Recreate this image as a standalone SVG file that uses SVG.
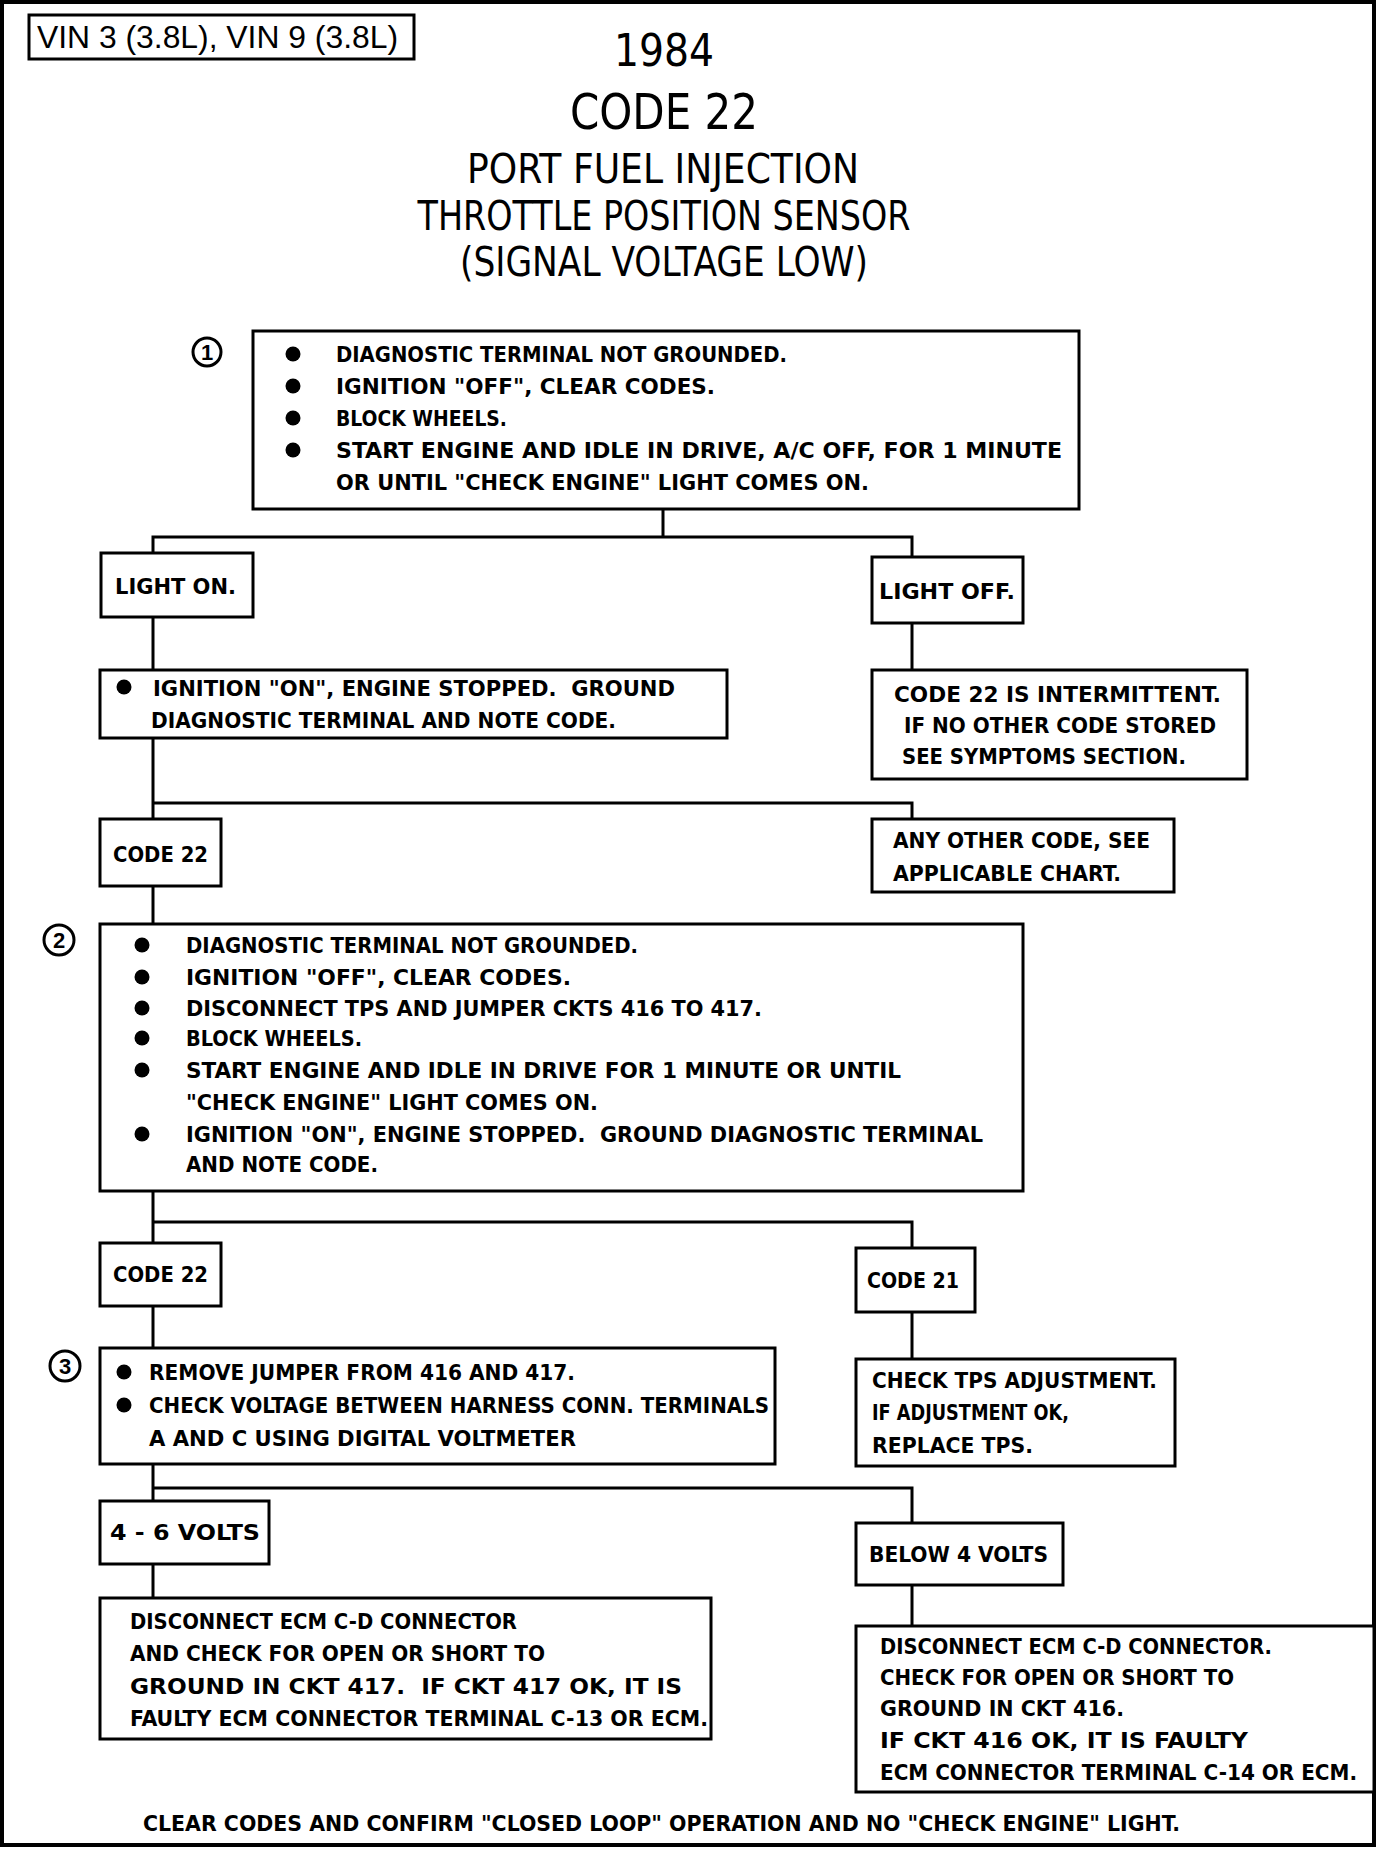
<svg xmlns="http://www.w3.org/2000/svg" width="1392" height="1850" viewBox="0 0 1392 1850">
<style>
.box{fill:#fff;stroke:#000;stroke-width:3}
.ln{fill:none;stroke:#000;stroke-width:3;stroke-linecap:square}
.t{font-family:"Liberation Sans Narrow","DejaVu Sans Condensed","Liberation Sans",sans-serif;font-size:22px;font-weight:bold;fill:#000;white-space:pre}
.h{font-family:"Liberation Sans Narrow","DejaVu Sans Condensed","Liberation Sans",sans-serif;fill:#000;text-anchor:middle}
.vin{font-family:"Liberation Sans Narrow","Liberation Sans",sans-serif;font-size:31px;fill:#000}
.num{font-family:"Liberation Sans Narrow","Liberation Sans",sans-serif;font-size:22px;font-weight:bold;fill:#000;text-anchor:middle}
.circ{fill:#fff;stroke:#000;stroke-width:3}
.b{fill:#000}
</style>
<rect x="0" y="0" width="1392" height="1850" fill="#fff"/>
<rect x="2" y="2" width="1372" height="1843" fill="none" stroke="#000" stroke-width="4"/>

<g id="vin">
<rect class="box" x="29" y="15" width="385" height="44"/>
<text class="vin" x="37" y="48" textLength="361" lengthAdjust="spacingAndGlyphs">VIN 3 (3.8L), VIN 9 (3.8L)</text>
</g>

<g id="title">
<text class="h" x="664" y="66" font-size="45" textLength="100" lengthAdjust="spacingAndGlyphs">1984</text>
<text class="h" x="664" y="129" font-size="50" textLength="188" lengthAdjust="spacingAndGlyphs">CODE 22</text>
<text class="h" x="663" y="183" font-size="41" textLength="392" lengthAdjust="spacingAndGlyphs">PORT FUEL INJECTION</text>
<text class="h" x="664" y="230" font-size="41" textLength="493" lengthAdjust="spacingAndGlyphs">THROTTLE POSITION SENSOR</text>
<text class="h" x="664" y="276" font-size="41" textLength="408" lengthAdjust="spacingAndGlyphs">(SIGNAL VOLTAGE LOW)</text>
</g>

<g id="connectors">
<path class="ln" d="M663 509 V537 M153 537 H912 M153 537 V553 M912 537 V557"/>
<path class="ln" d="M153 617 V670 M912 623 V670"/>
<path class="ln" d="M153 738 V819 M153 803 H912 V819"/>
<path class="ln" d="M153 886 V924"/>
<path class="ln" d="M153 1191 V1243 M153 1222 H912 V1248"/>
<path class="ln" d="M153 1306 V1348 M912 1312 V1359"/>
<path class="ln" d="M153 1464 V1501 M153 1488 H912 V1523"/>
<path class="ln" d="M153 1564 V1598 M912 1585 V1626"/>
</g>

<g id="step1">
<circle class="circ" cx="207" cy="352" r="14"/>
<text class="num" x="207" y="360">1</text>
</g>
<g id="box1">
<rect class="box" x="253" y="331" width="826" height="178"/>
<circle class="b" cx="293" cy="354" r="7.5"/>
<circle class="b" cx="293" cy="386" r="7.5"/>
<circle class="b" cx="293" cy="418" r="7.5"/>
<circle class="b" cx="293" cy="450" r="7.5"/>
<text class="t" x="336" y="362" textLength="451" lengthAdjust="spacingAndGlyphs">DIAGNOSTIC TERMINAL NOT GROUNDED.</text>
<text class="t" x="336" y="394" textLength="379" lengthAdjust="spacingAndGlyphs">IGNITION "OFF", CLEAR CODES.</text>
<text class="t" x="336" y="426" textLength="171" lengthAdjust="spacingAndGlyphs">BLOCK WHEELS.</text>
<text class="t" x="336" y="458" textLength="726" lengthAdjust="spacingAndGlyphs">START ENGINE AND IDLE IN DRIVE, A/C OFF, FOR 1 MINUTE</text>
<text class="t" x="336" y="490" textLength="533" lengthAdjust="spacingAndGlyphs">OR UNTIL "CHECK ENGINE" LIGHT COMES ON.</text>
</g>

<g id="light-on">
<rect class="box" x="101" y="553" width="152" height="64"/>
<text class="t" x="115" y="594" textLength="121" lengthAdjust="spacingAndGlyphs">LIGHT ON.</text>
</g>
<g id="light-off">
<rect class="box" x="872" y="557" width="151" height="66"/>
<text class="t" x="879" y="599" textLength="136" lengthAdjust="spacingAndGlyphs">LIGHT OFF.</text>
</g>

<g id="ignition-on">
<rect class="box" x="100" y="670" width="627" height="68"/>
<circle class="b" cx="124" cy="687" r="7.5"/>
<text class="t" x="153" y="696" textLength="522" lengthAdjust="spacingAndGlyphs">IGNITION "ON", ENGINE STOPPED.  GROUND</text>
<text class="t" x="151" y="728" textLength="465" lengthAdjust="spacingAndGlyphs">DIAGNOSTIC TERMINAL AND NOTE CODE.</text>
</g>

<g id="intermittent">
<rect class="box" x="872" y="670" width="375" height="109"/>
<text class="t" x="894" y="702" textLength="327" lengthAdjust="spacingAndGlyphs">CODE 22 IS INTERMITTENT.</text>
<text class="t" x="904" y="733" textLength="312" lengthAdjust="spacingAndGlyphs">IF NO OTHER CODE STORED</text>
<text class="t" x="902" y="764" textLength="284" lengthAdjust="spacingAndGlyphs">SEE SYMPTOMS SECTION.</text>
</g>

<g id="code22-a">
<rect class="box" x="100" y="819" width="121" height="67"/>
<text class="t" x="113" y="862" textLength="95" lengthAdjust="spacingAndGlyphs">CODE 22</text>
</g>
<g id="any-other">
<rect class="box" x="872" y="819" width="302" height="73"/>
<text class="t" x="893" y="848" textLength="257" lengthAdjust="spacingAndGlyphs">ANY OTHER CODE, SEE</text>
<text class="t" x="893" y="881" textLength="228" lengthAdjust="spacingAndGlyphs">APPLICABLE CHART.</text>
</g>

<g id="step2">
<circle class="circ" cx="59" cy="940" r="15"/>
<text class="num" x="59" y="948">2</text>
</g>
<g id="box2">
<rect class="box" x="100" y="924" width="923" height="267"/>
<circle class="b" cx="142" cy="945" r="7.5"/>
<circle class="b" cx="142" cy="977" r="7.5"/>
<circle class="b" cx="142" cy="1008" r="7.5"/>
<circle class="b" cx="142" cy="1038" r="7.5"/>
<circle class="b" cx="142" cy="1070" r="7.5"/>
<circle class="b" cx="142" cy="1134" r="7.5"/>
<text class="t" x="186" y="953" textLength="452" lengthAdjust="spacingAndGlyphs">DIAGNOSTIC TERMINAL NOT GROUNDED.</text>
<text class="t" x="186" y="985" textLength="385" lengthAdjust="spacingAndGlyphs">IGNITION "OFF", CLEAR CODES.</text>
<text class="t" x="186" y="1016" textLength="576" lengthAdjust="spacingAndGlyphs">DISCONNECT TPS AND JUMPER CKTS 416 TO 417.</text>
<text class="t" x="186" y="1046" textLength="176" lengthAdjust="spacingAndGlyphs">BLOCK WHEELS.</text>
<text class="t" x="186" y="1078" textLength="715" lengthAdjust="spacingAndGlyphs">START ENGINE AND IDLE IN DRIVE FOR 1 MINUTE OR UNTIL</text>
<text class="t" x="186" y="1110" textLength="412" lengthAdjust="spacingAndGlyphs">"CHECK ENGINE" LIGHT COMES ON.</text>
<text class="t" x="186" y="1142" textLength="797" lengthAdjust="spacingAndGlyphs">IGNITION "ON", ENGINE STOPPED.  GROUND DIAGNOSTIC TERMINAL</text>
<text class="t" x="186" y="1172" textLength="192" lengthAdjust="spacingAndGlyphs">AND NOTE CODE.</text>
</g>

<g id="code22-b">
<rect class="box" x="100" y="1243" width="121" height="63"/>
<text class="t" x="113" y="1282" textLength="95" lengthAdjust="spacingAndGlyphs">CODE 22</text>
</g>
<g id="code21">
<rect class="box" x="856" y="1248" width="119" height="64"/>
<text class="t" x="867" y="1288" textLength="92" lengthAdjust="spacingAndGlyphs">CODE 21</text>
</g>

<g id="step3">
<circle class="circ" cx="65" cy="1366" r="15"/>
<text class="num" x="65" y="1374">3</text>
</g>
<g id="box3">
<rect class="box" x="100" y="1348" width="675" height="116"/>
<circle class="b" cx="124" cy="1372" r="7.5"/>
<circle class="b" cx="124" cy="1405" r="7.5"/>
<text class="t" x="149" y="1380" textLength="426" lengthAdjust="spacingAndGlyphs">REMOVE JUMPER FROM 416 AND 417.</text>
<text class="t" x="149" y="1413" textLength="620" lengthAdjust="spacingAndGlyphs">CHECK VOLTAGE BETWEEN HARNESS CONN. TERMINALS</text>
<text class="t" x="149" y="1446" textLength="427" lengthAdjust="spacingAndGlyphs">A AND C USING DIGITAL VOLTMETER</text>
</g>

<g id="check-tps">
<rect class="box" x="856" y="1359" width="319" height="107"/>
<text class="t" x="872" y="1388" textLength="285" lengthAdjust="spacingAndGlyphs">CHECK TPS ADJUSTMENT.</text>
<text class="t" x="872" y="1420" textLength="197" lengthAdjust="spacingAndGlyphs">IF ADJUSTMENT OK,</text>
<text class="t" x="872" y="1453" textLength="161" lengthAdjust="spacingAndGlyphs">REPLACE TPS.</text>
</g>

<g id="volts-4-6">
<rect class="box" x="100" y="1501" width="169" height="63"/>
<text class="t" x="110" y="1540" textLength="150" lengthAdjust="spacingAndGlyphs">4 - 6 VOLTS</text>
</g>
<g id="below-4">
<rect class="box" x="856" y="1523" width="207" height="62"/>
<text class="t" x="869" y="1562" textLength="179" lengthAdjust="spacingAndGlyphs">BELOW 4 VOLTS</text>
</g>

<g id="ckt417">
<rect class="box" x="100" y="1598" width="611" height="141"/>
<text class="t" x="130" y="1629" textLength="387" lengthAdjust="spacingAndGlyphs">DISCONNECT ECM C-D CONNECTOR</text>
<text class="t" x="130" y="1661" textLength="415" lengthAdjust="spacingAndGlyphs">AND CHECK FOR OPEN OR SHORT TO</text>
<text class="t" x="130" y="1694" textLength="552" lengthAdjust="spacingAndGlyphs">GROUND IN CKT 417.  IF CKT 417 OK, IT IS</text>
<text class="t" x="130" y="1726" textLength="578" lengthAdjust="spacingAndGlyphs">FAULTY ECM CONNECTOR TERMINAL C-13 OR ECM.</text>
</g>

<g id="ckt416">
<rect class="box" x="856" y="1626" width="518" height="166"/>
<text class="t" x="880" y="1654" textLength="392" lengthAdjust="spacingAndGlyphs">DISCONNECT ECM C-D CONNECTOR.</text>
<text class="t" x="880" y="1685" textLength="354" lengthAdjust="spacingAndGlyphs">CHECK FOR OPEN OR SHORT TO</text>
<text class="t" x="880" y="1716" textLength="244" lengthAdjust="spacingAndGlyphs">GROUND IN CKT 416.</text>
<text class="t" x="880" y="1748" textLength="368" lengthAdjust="spacingAndGlyphs">IF CKT 416 OK, IT IS FAULTY</text>
<text class="t" x="880" y="1780" textLength="477" lengthAdjust="spacingAndGlyphs">ECM CONNECTOR TERMINAL C-14 OR ECM.</text>
</g>

<g id="footer">
<text class="t" x="143" y="1831" textLength="1037" lengthAdjust="spacingAndGlyphs">CLEAR CODES AND CONFIRM "CLOSED LOOP" OPERATION AND NO "CHECK ENGINE" LIGHT.</text>
</g>
</svg>
